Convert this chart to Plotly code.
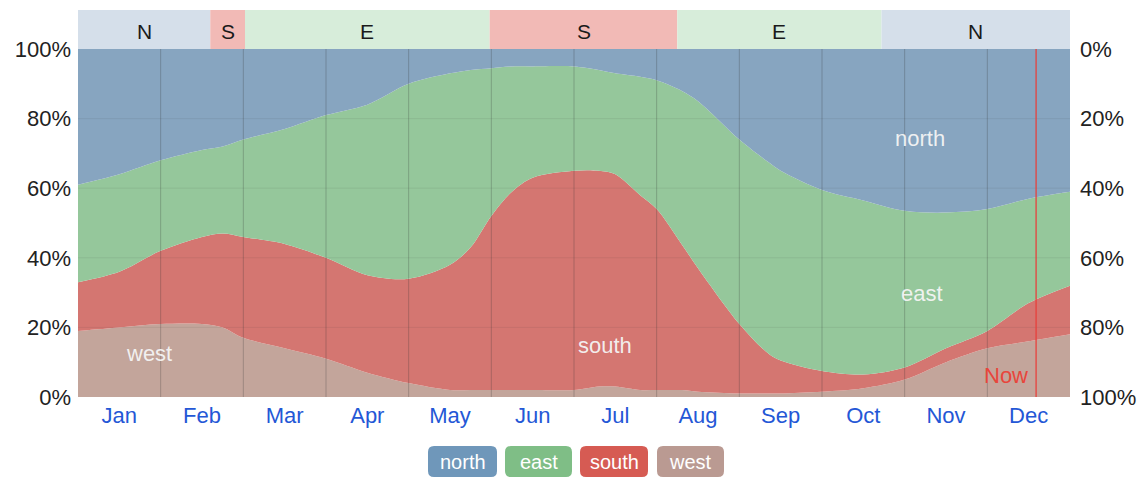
import plotly.graph_objects as go

# ---------------- data ----------------
months = ["Jan", "Feb", "Mar", "Apr", "May", "Jun", "Jul", "Aug", "Sep", "Oct", "Nov", "Dec"]
month_pos = [0, 0.5, 1.0, 1.5, 1.75, 2.0, 2.5, 3.0, 3.5, 4.0, 4.5, 4.75, 5.0, 5.25, 5.5, 6.0,
             6.3, 6.5, 6.8, 7.0, 7.3, 7.5, 8.0, 8.35, 8.5, 9.0, 9.5, 10.0, 10.5, 11.0, 11.5, 12.0]
west = [19, 20, 21, 21, 20, 17, 14, 11, 7, 4, 2, 2, 2, 2, 2, 2,
        3, 3, 2, 2, 2, 1.5, 1, 1, 1, 1.5, 2.5, 5, 10, 14, 16, 18]
south = [14, 16, 21, 25, 27, 29, 30, 29, 28, 30, 36, 41, 50, 57, 61, 63,
         62, 61, 56, 52, 42, 35.5, 20, 11.5, 9.5, 6, 4, 3.5, 4, 5, 11, 14]
east = [28, 28, 26, 25, 25, 28, 33, 41, 49, 56, 55, 51, 42.5, 36, 32, 30,
        29, 29, 34, 37, 44, 48, 53, 55, 54.5, 52, 50, 45, 39, 35, 30, 27]
north = [39, 36, 32, 29, 28, 26, 23, 19, 16, 10, 7, 6, 5.5, 5, 5, 5,
         6, 7, 8, 9, 12, 15, 26, 32.5, 35, 40.5, 43.5, 46.5, 47, 46, 43, 41]

band_labels = ["N", "S", "E", "S", "E", "N"]
band_edges = [0, 1.6, 2.02, 4.98, 7.25, 9.72, 12]
now_pos = 11.59
pct_ticks = [0, 20, 40, 60, 80, 100]

# ---------------- style ----------------
FONT = "Liberation Sans, Arial, sans-serif"
OFF = 8                      # page body margin
W, H = 1146 - OFF, 478 - OFF
PL, PR, PT, PB = 78, 1070, 49, 397   # plot box in page pixels
L, T = PL - OFF, PT - OFF
R, B = W - (PR - OFF), H - (PB - OFF)
PW, PH = PR - PL, PB - PT

colors = {"north": "#87a5c0", "east": "#95c79b", "south": "#d47671", "west": "#c3a59b"}
chip_colors = {"north": "#6f97ba", "east": "#7fbe86", "south": "#d65b53", "west": "#ba9a92"}
band_colors = {"N": "#d5dfea", "S": "#f2bab6", "E": "#d7edda"}


def px_x(px):
    return (px - PL) / PW


def px_y(py):
    return (PB - py) / PH


fig = go.Figure()

for name, vals in [("west", west), ("south", south), ("east", east), ("north", north)]:
    fig.add_trace(go.Scatter(
        x=month_pos, y=vals, name=name, stackgroup="one", mode="lines",
        line=dict(width=0, shape="spline", smoothing=0.9),
        fillcolor=colors[name], showlegend=False, hoverinfo="skip"))

# dummy trace to show the right axis
fig.add_trace(go.Scatter(x=[0, 12], y=[0, 100], yaxis="y2", mode="lines",
                         line=dict(width=0), opacity=0, showlegend=False, hoverinfo="skip"))

shapes = []
for m in range(1, 12):
    shapes.append(dict(type="line", xref="x", yref="y", x0=m, x1=m, y0=0, y1=100,
                       line=dict(color="rgba(50,50,50,0.26)", width=1), layer="above"))
for v in [20, 40, 60, 80]:
    shapes.append(dict(type="line", xref="x", yref="y", x0=0, x1=12, y0=v, y1=v,
                       line=dict(color="rgba(50,50,50,0.09)", width=1), layer="above"))
for i, lab in enumerate(band_labels):
    shapes.append(dict(type="rect", xref="x", yref="paper", x0=band_edges[i], x1=band_edges[i + 1],
                       y0=1, y1=px_y(10), fillcolor=band_colors[lab], line=dict(width=0), layer="below"))
shapes.append(dict(type="line", xref="x", yref="y", x0=now_pos, x1=now_pos, y0=0, y1=100,
                   line=dict(color="rgba(232,64,60,0.85)", width=1.5), layer="above"))

annotations = []
for i, lab in enumerate(band_labels):
    annotations.append(dict(x=(band_edges[i] + band_edges[i + 1]) / 2, y=px_y(32), xref="x", yref="paper",
                            xanchor="center", yanchor="middle",
                            text=lab, showarrow=False, font=dict(family=FONT, size=21, color="#1a1a1a")))

area_labels = [("north", 10.19, 74.4), ("east", 10.21, 29.6), ("south", 6.37, 14.9), ("west", 0.86, 12.6)]
for txt, xx, yy in area_labels:
    annotations.append(dict(x=xx, y=yy, xref="x", yref="y", text=txt, showarrow=False,
                            xanchor="center", yanchor="middle",
                            font=dict(family=FONT, size=22, color="rgba(245,245,245,0.95)")))

annotations.append(dict(x=now_pos - 0.07, y=6.3, xref="x", yref="y", text="Now", showarrow=False,
                        xanchor="right", yanchor="middle", font=dict(family=FONT, size=22, color="#e8453c")))


def rounded_rect(x0, y0, x1, y1, r):
    def P(px, py):
        return f"{px_x(px):.5f},{px_y(py):.5f}"
    return (f"M {P(x0 + r, y0)} L {P(x1 - r, y0)} Q {P(x1, y0)} {P(x1, y0 + r)} "
            f"L {P(x1, y1 - r)} Q {P(x1, y1)} {P(x1 - r, y1)} L {P(x0 + r, y1)} "
            f"Q {P(x0, y1)} {P(x0, y1 - r)} L {P(x0, y0 + r)} Q {P(x0, y0)} {P(x0 + r, y0)} Z")


chips = [("north", 428, 497), ("east", 505, 572), ("south", 580, 648), ("west", 657, 724)]
for name, x0, x1 in chips:
    shapes.append(dict(type="path", xref="paper", yref="paper", path=rounded_rect(x0, 446, x1, 477, 6),
                       fillcolor=chip_colors[name], line=dict(width=0)))
    annotations.append(dict(x=px_x((x0 + x1) / 2), y=px_y(461.5), xref="paper", yref="paper", text=name,
                            xanchor="center", yanchor="middle",
                            showarrow=False, font=dict(family=FONT, size=20, color="white")))

fig.update_layout(
    width=W, height=H, margin=dict(l=L, r=R, t=T, b=B, autoexpand=False),
    paper_bgcolor="white", plot_bgcolor="white",
    shapes=shapes, annotations=annotations, showlegend=False,
    xaxis=dict(range=[0, 12], tickvals=[i + 0.5 for i in range(12)], ticktext=months, automargin=False,
               showgrid=False, zeroline=False, ticks="", showline=False, ticklabelstandoff=3,
               tickfont=dict(family=FONT, size=22, color="#2457d6")),
    yaxis=dict(range=[0, 100], tickvals=pct_ticks, ticktext=[f"{v}%" for v in pct_ticks], automargin=False,
               showgrid=False, zeroline=False, ticks="", showline=False, ticklabelstandoff=6,
               tickfont=dict(family=FONT, size=22, color="#222222")),
    yaxis2=dict(range=[100, 0], overlaying="y", side="right", tickvals=pct_ticks, automargin=False,
                ticktext=[f"{v}%" for v in pct_ticks], showgrid=False, zeroline=False, ticks="",
                showline=False, ticklabelstandoff=9, tickfont=dict(family=FONT, size=22, color="#222222")),
)

fig.write_html("out.html")
